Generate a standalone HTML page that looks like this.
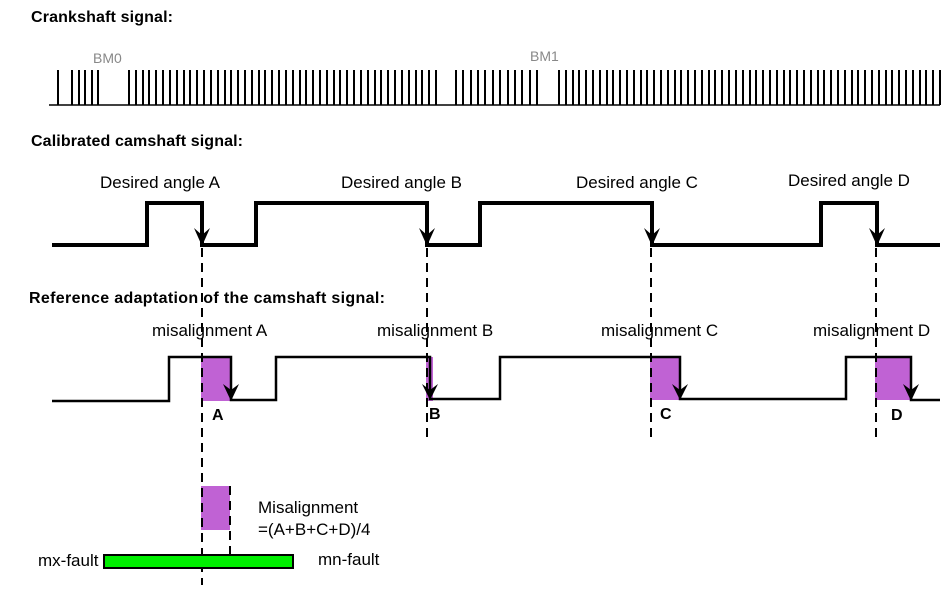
<!DOCTYPE html>
<html><head><meta charset="utf-8"><style>
html,body{margin:0;padding:0;background:#fff;}
svg{display:block;}
text{font-family:"Liberation Sans",Arial,sans-serif;}
</style></head><body>
<svg id="s" width="952" height="606" viewBox="0 0 952 606" xmlns="http://www.w3.org/2000/svg">
<text x="31" y="22" font-size="16" font-weight="bold" textLength="142">Crankshaft signal:</text>
<text x="93" y="63" font-size="14" fill="#888" font-family="Liberation Serif">BM0</text>
<text x="530" y="61" font-size="14" fill="#888" font-family="Liberation Serif">BM1</text>
<line x1="49" y1="105" x2="940" y2="105" stroke="#000" stroke-width="1.5"/>
<g id="teeth" stroke="#000" stroke-width="2"></g>

<text x="31" y="146" font-size="16" font-weight="bold" textLength="212">Calibrated camshaft signal:</text>
<g font-size="17">
<text x="100" y="188">Desired angle A</text>
<text x="341" y="188">Desired angle B</text>
<text x="576" y="188">Desired angle C</text>
<text x="788" y="186">Desired angle D</text>
</g>
<path d="M52,245 H147 V203 H202 V245 H256 V203 H427 V245 H480 V203 H652 V245 H821 V203 H877 V245 H940" fill="none" stroke="#000" stroke-width="4"/>
<g fill="#000">
<path d="M194,228 L202,246 L210,228 L202,235 Z"/>
<path d="M419,228 L427,246 L435,228 L427,235 Z"/>
<path d="M644,228 L652,246 L660,228 L652,235 Z"/>
<path d="M869,228 L877,246 L885,228 L877,235 Z"/>
</g>

<text x="29" y="303" font-size="16" font-weight="bold" textLength="356">Reference adaptation of the camshaft signal:</text>
<g font-size="17">
<text x="152" y="336">misalignment A</text>
<text x="377" y="336">misalignment B</text>
<text x="601" y="336">misalignment C</text>
<text x="813" y="336">misalignment D</text>
</g>
<g fill="#c062d4">
<rect x="201" y="357" width="30" height="44"/>
<rect x="426" y="357" width="7" height="44"/>
<rect x="650" y="357" width="30" height="43"/>
<rect x="875" y="357" width="36" height="43"/>
<rect x="201" y="486" width="29" height="44"/>
</g>
<path d="M52,401 H169 V357 H231 V400 H276 V357 H430 V399 H500 V357 H680 V399 H846 V357 H911 V400 H940" fill="none" stroke="#000" stroke-width="2.5"/>
<g fill="#000">
<path d="M223,384 L231,401 L239,384 L231,390 Z"/>
<path d="M422,384 L430,400 L438,384 L430,390 Z"/>
<path d="M672,384 L680,400 L688,384 L680,390 Z"/>
<path d="M903,384 L911,401 L919,384 L911,390 Z"/>
</g>
<g font-size="16" font-weight="bold">
<text x="212" y="420">A</text>
<text x="429" y="419">B</text>
<text x="660" y="419">C</text>
<text x="891" y="420">D</text>
</g>
<g stroke="#000" stroke-width="2" stroke-dasharray="9,6">
<line x1="202" y1="248" x2="202" y2="585"/>
<line x1="427" y1="248" x2="427" y2="440"/>
<line x1="651" y1="248" x2="651" y2="440"/>
<line x1="876" y1="248" x2="876" y2="440"/>
<line x1="230" y1="486" x2="230" y2="554"/>
</g>
<text x="258" y="513" font-size="17">Misalignment</text>
<text x="258" y="535" font-size="17">=(A+B+C+D)/4</text>
<rect x="104" y="555" width="189" height="13" fill="#00ee00" stroke="#000" stroke-width="2"/>
<text x="38" y="566" font-size="17">mx-fault</text>
<text x="318" y="565" font-size="17">mn-fault</text>
</svg>
<script>
var g=document.getElementById('teeth'),xs=[58];
function run(a,b,n){for(var i=0;i<n;i++)xs.push(a+(b-a)*i/(n-1));}
run(72,98,5);run(129,436,46);run(456,537,12);run(559,940,57);
var ns='http://www.w3.org/2000/svg';
xs.forEach(function(x){var l=document.createElementNS(ns,'line');x=Math.round(x);
l.setAttribute('x1',x);l.setAttribute('x2',x);l.setAttribute('y1',70);l.setAttribute('y2',105);g.appendChild(l);});
</script>
</body></html>
